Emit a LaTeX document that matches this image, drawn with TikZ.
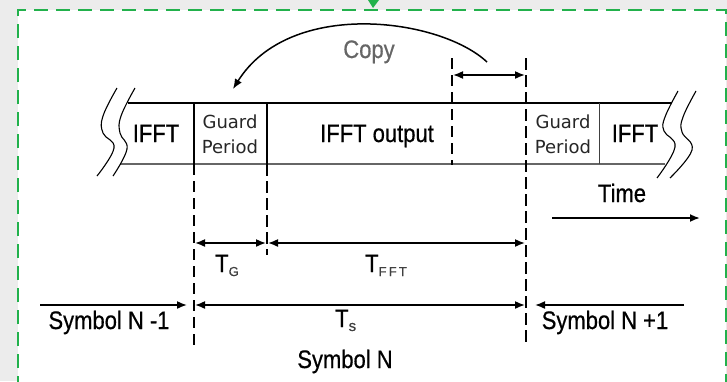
\documentclass[tikz,border=0pt]{standalone}
\usepackage{fontspec}
\usepackage{graphicx}
\setmainfont[FakeBold=0.6,AutoFakeBold=0.6]{Liberation Sans}
\newfontfamily\guardfont{DejaVu Sans}
\usetikzlibrary{arrows.meta}
\definecolor{frameg}{RGB}{34,177,76}
\definecolor{bgg}{RGB}{236,236,236}
\newcommand\tallt[1]{\scalebox{1}[1.15]{#1}}
\newcommand\subt[1]{\raisebox{-4pt}{\textcolor{black!75}{\fontsize{13}{13}\selectfont #1}}}
\begin{document}
\begin{tikzpicture}[x=1pt,y=-1pt,
  lbl/.style={font=\fontsize{22}{24}\selectfont\bfseries, inner sep=0pt, anchor=base},
  gp/.style={font=\guardfont\fontsize{18}{20}\selectfont, inner sep=0pt, anchor=base, text=black!85},
  tip/.style={-{Latex[length=10pt,width=8pt]}},
  arr/.style={line width=1.6pt, tip},
  darr/.style={line width=1.6pt, {Latex[length=10pt,width=8pt]}-{Latex[length=10pt,width=8pt]}},
  dthin/.style={line width=1.3pt, dash pattern=on 11pt off 6pt},
  dthick/.style={line width=2.6pt, dash pattern=on 12pt off 5pt},
  brk/.style={line width=1.1pt, smooth, tension=0.7},
  frm/.style={draw=frameg, line width=2pt, dash pattern=on 14pt off 8pt}
]
\useasboundingbox (0,0) rectangle (727,381);
% background and frame
\fill[bgg] (0,0) rectangle (727,381);
\fill[white] (18,10) rectangle (726,381);
\draw[frm] (18,390) -- (18,10) -- (726,10) -- (726,390);
\fill[frameg] (368,0) -- (379,0) -- (373,8) -- cycle;

% reference coordinates
\coordinate (gL) at (194,103);  \coordinate (gLb) at (194,164); \coordinate (gLd) at (194,345);
\coordinate (gR) at (267,103);  \coordinate (gRb) at (267,164); \coordinate (gRd) at (267,255);
\coordinate (cA) at (452,58);   \coordinate (cAb) at (452,165);
\coordinate (cB) at (526,58);   \coordinate (cBd) at (526,345);
\coordinate (g2) at (599,103);  \coordinate (g2b) at (599,164);
\coordinate (bTL) at (128,103); \coordinate (bTR) at (672,103);
\coordinate (bBL) at (120,164); \coordinate (bBR) at (665,164);

% band
\draw[line width=1.5pt] (bTL) -- (bTR);
\draw[line width=2pt, black!60] (bBL) -- (bBR);
\draw[line width=1.5pt] (gL) -- (gLb);
\draw[line width=1.3pt] (gR) -- (gRb);
\draw[line width=0.9pt, black!75] (g2) -- (g2b);

% break symbols
\draw[brk] plot coordinates {(117,88) (103,116) (103,133) (114,148) (97,176)};
\draw[brk] plot coordinates {(135,88) (121,116) (120,133) (127,149) (113,176)};
\draw[brk] plot coordinates {(678,91) (665,117) (664,131) (675,147) (657,178)};
\draw[brk] plot coordinates {(696,91) (683,117) (682,132) (692,150) (670,178)};

% dashed markers
\draw[dthin] (gLb) -- (gLd);
\draw[dthick, line width=2.2pt] (gRb) -- (gRd);
\draw[dthin, line width=1.8pt] (cA) -- (cAb);
\draw[dthick] (cB) -- (cBd);

% copy arrow
\coordinate (cs) at (487,62); \coordinate (ce) at (233,89);
\draw[line width=1.5pt, tip] (cs) .. controls (440,18) and (290,-2) .. (ce);
\coordinate (cp1) at (453,75); \coordinate (cp2) at (525,75);
\draw[darr] (cp1) -- (cp2);
\node[lbl, text=black!60, font=\fontsize{22}{24}\selectfont] (copy) at (369,58) {\tallt{Copy}};

% texts in band
\node[lbl] (ifftL) at (156,142) {\tallt{IFFT}};
\node[lbl] (ifftO) at (377,142) {\tallt{IFFT output}};
\node[lbl] (ifftR) at (635,142) {\tallt{IFFT}};
\node[gp] (gp1a) at (230,128) {Guard};
\node[gp] (gp1b) at (230,153) {Period};
\node[gp] (gp2a) at (563,128) {Guard};
\node[gp] (gp2b) at (563,153) {Period};

% time
\node[lbl] (time) at (622,202) {\tallt{Time}};
\coordinate (tm1) at (552,218); \coordinate (tm2) at (700,218);
\draw[arr, line width=1.8pt] (tm1) -- (tm2);

% durations
\coordinate (tg1) at (195,243); \coordinate (tg2) at (266,243);
\coordinate (tf1) at (268,243); \coordinate (tf2) at (525,243);
\coordinate (ts1) at (195,305); \coordinate (ts2) at (525,305);
\draw[darr] (tg1) -- (tg2);
\draw[darr] (tf1) -- (tf2);
\draw[darr] (ts1) -- (ts2);
\node[lbl, anchor=base west, font=\fontsize{22}{24}\selectfont] (tG) at (215,272) {\tallt{T}\subt{G}};
\node[lbl, anchor=base west, font=\fontsize{22}{24}\selectfont] (tFFT) at (365,272) {\tallt{T}\subt{F\,F\,T}};
\node[lbl, anchor=base west, font=\fontsize{22}{24}\selectfont] (tS) at (335,327) {\tallt{T}\subt{\fontsize{15}{15}\selectfont s}};

% symbols
\coordinate (sa1) at (40,305);  \coordinate (sa2) at (187,305);
\coordinate (sb1) at (684,305); \coordinate (sb2) at (535,305);
\draw[arr] (sa1) -- (sa2);
\draw[arr] (sb1) -- (sb2);
\node[lbl] (symA) at (109,329) {\tallt{Symbol N -1}};
\node[lbl] (symB) at (605,329) {\tallt{Symbol N +1}};
\node[lbl] (symN) at (345,368) {\tallt{Symbol N}};
\end{tikzpicture}
\end{document}
